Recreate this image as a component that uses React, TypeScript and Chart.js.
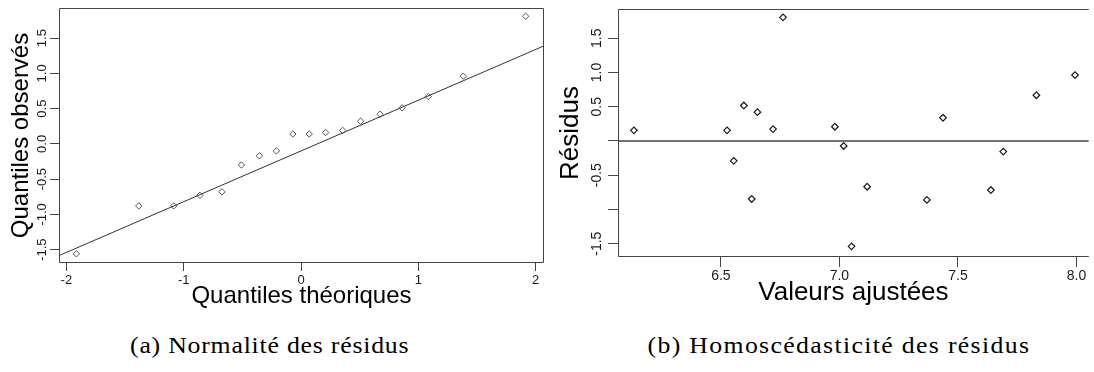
import React, { useEffect, useRef } from 'react';
import { Chart, registerables } from 'chart.js';

Chart.register(...registerables);

// ---------- Data: normal QQ plot ----------
const qqTheoretical = [-1.915, -1.383, -1.085, -0.862, -0.674, -0.508, -0.355, -0.21, -0.07, 0.07, 0.21, 0.355, 0.508, 0.674, 0.862, 1.085, 1.383, 1.915];
const qqObserved = [-1.56, -0.88, -0.88, -0.73, -0.68, -0.3, -0.17, -0.1, 0.14, 0.14, 0.16, 0.19, 0.32, 0.42, 0.51, 0.67, 0.96, 1.81];
const qqLineX = [-2.063, 2.071];
const qqLineY = [-1.585, 1.39];
const qqXTicks = [-2, -1, 0, 1, 2];
const qqXTickLabels = ['-2', '-1', '0', '1', '2'];
const qqYTicks = [-1.5, -1.0, -0.5, 0, 0.5, 1.0, 1.5];
const qqYTickLabels = ['-1.5', '-1.0', '-0.5', '0.0', '0.5', '1.0', '1.5'];
const qqXRange = [-2.063, 2.071];
const qqYRange = [-1.69, 1.927];

// ---------- Data: residuals vs fitted ----------
const fittedValues = [6.133, 6.526, 6.554, 6.597, 6.63, 6.654, 6.72, 6.762, 6.981, 7.018, 7.051, 7.117, 7.369, 7.437, 7.639, 7.691, 7.831, 7.994];
const residualValues = [0.155, 0.155, -0.29, 0.518, -0.847, 0.421, 0.174, 1.805, 0.208, -0.073, -1.538, -0.668, -0.861, 0.339, -0.716, -0.155, 0.668, 0.963];
const zeroLineX = [6.066, 8.052];
const zeroLineY = [0, 0];
const resXTicks = [6.5, 7.0, 7.5, 8.0];
const resXTickLabels = ['6.5', '7.0', '7.5', '8.0'];
const resYTicks = [-1.5, -1.0, -0.5, 0, 0.5, 1.0, 1.5];
const resYTickLabels = ['-1.5', '', '-0.5', '', '0.5', '1.0', '1.5'];
const resXRange = [6.066, 8.052];
const resYRange = [-1.694, 1.927];

const SANS = '"Liberation Sans", Arial, sans-serif';

const boxPlugin = {
  id: 'rbox',
  afterDatasetsDraw(chart: any, _args: any, opts: any) {
    const { left, top, right, bottom } = chart.chartArea;
    const ctx = chart.ctx;
    ctx.save();
    ctx.strokeStyle = opts.color || '#444';
    ctx.lineWidth = 1;
    const l = Math.round(left) + 0.5;
    const t = Math.round(top) + 0.5;
    const r = Math.round(right) - 0.5;
    const b = Math.round(bottom) - 0.5;
    ctx.beginPath();
    if (opts.noRight) {
      ctx.moveTo(right, t);
      ctx.lineTo(l, t);
      ctx.lineTo(l, b);
      ctx.lineTo(right, b);
    } else {
      ctx.rect(l, t, r - l, b - t);
    }
    ctx.stroke();
    ctx.restore();
  },
};

const yLabelPlugin = {
  id: 'ylabels',
  afterDraw(chart: any, _args: any, opts: any) {
    const scale = chart.scales.y;
    const ctx = chart.ctx;
    const x = chart.chartArea.left - opts.offset;
    ctx.save();
    ctx.fillStyle = '#1a1a1a';
    ctx.font = `${opts.size}px ${SANS}`;
    ctx.textAlign = 'center';
    ctx.textBaseline = 'middle';
    opts.values.forEach((v: number, i: number) => {
      const label = opts.labels[i];
      if (!label) return;
      const y = scale.getPixelForValue(v);
      ctx.save();
      ctx.translate(x, y);
      ctx.rotate(-Math.PI / 2);
      ctx.fillText(label, 0, 0);
      ctx.restore();
    });
    ctx.restore();
  },
};

type PanelSpec = {
  pageLeft: number;
  width: number;
  height: number;
  chartLeft: number;
  chartTop: number;
  chartRight: number;
  chartBottom: number;
  xs: number[];
  ys: number[];
  lineX: number[];
  lineY: number[];
  lineColor: string;
  lineWidth: number;
  pointColor: string;
  pointRadius: number;
  pointBorder: number;
  xRange: number[];
  yRange: number[];
  xTicks: number[];
  xTickLabels: string[];
  yTicks: number[];
  yTickLabels: string[];
  xTitle: string;
  yTitle: string;
  titleSize: number;
  tickSize: number;
  xTitlePad: number;
  yTitlePad: number;
  xTickLen: number;
  yTickLen: number;
  xTickPad: number;
  yLabelOffset: number;
  noRight: boolean;
};

function Panel({ spec }: { spec: PanelSpec }) {
  const ref = useRef<HTMLCanvasElement | null>(null);
  useEffect(() => {
    if (!ref.current) return;
    const s = spec;
    const chart = new Chart(ref.current, {
      type: 'scatter',
      data: {
        datasets: [
          {
            data: s.lineX.map((x, i) => ({ x, y: s.lineY[i] })),
            showLine: true,
            borderColor: s.lineColor,
            borderWidth: s.lineWidth,
            pointRadius: 0,
            order: 2,
          } as any,
          {
            data: s.xs.map((x, i) => ({ x, y: s.ys[i] })),
            pointStyle: 'rectRot',
            pointRadius: s.pointRadius,
            pointBorderWidth: s.pointBorder,
            pointBorderColor: s.pointColor,
            pointBackgroundColor: 'rgba(0,0,0,0)',
            showLine: false,
            order: 1,
          } as any,
        ],
      },
      options: {
        responsive: false,
        animation: false,
        events: [],
        layout: {
          padding: { left: 0, top: s.chartTop, right: s.width - s.chartRight, bottom: 0 },
        },
        plugins: {
          legend: { display: false },
          tooltip: { enabled: false },
          rbox: { color: '#444', noRight: s.noRight },
          ylabels: { values: s.yTicks, labels: s.yTickLabels, offset: s.yLabelOffset, size: s.tickSize },
        } as any,
        scales: {
          x: {
            type: 'linear',
            min: s.xRange[0],
            max: s.xRange[1],
            afterBuildTicks: (scale: any) => {
              scale.ticks = s.xTicks.map((v) => ({ value: v }));
            },
            afterFit: (scale: any) => {
              scale.height = s.height - s.chartBottom;
              scale.paddingLeft = 0;
              scale.paddingRight = 0;
            },
            ticks: {
              autoSkip: false,
              maxRotation: 0,
              minRotation: 0,
              includeBounds: false,
              padding: s.xTickPad,
              color: '#1a1a1a',
              font: { family: SANS, size: s.tickSize },
              callback: (v: any) => {
                const i = s.xTicks.findIndex((t) => Math.abs(t - Number(v)) < 1e-9);
                return i >= 0 ? s.xTickLabels[i] : '';
              },
            },
            grid: {
              drawOnChartArea: false,
              drawTicks: true,
              tickLength: s.xTickLen,
              color: '#444',
              lineWidth: 1,
            },
            border: { display: false },
            title: {
              display: true,
              text: s.xTitle,
              color: '#000',
              font: { family: SANS, size: s.titleSize },
              padding: { top: 0, bottom: s.xTitlePad },
            },
          },
          y: {
            type: 'linear',
            min: s.yRange[0],
            max: s.yRange[1],
            afterBuildTicks: (scale: any) => {
              scale.ticks = s.yTicks.map((v) => ({ value: v }));
            },
            afterFit: (scale: any) => {
              scale.width = s.chartLeft;
              scale.paddingTop = 0;
              scale.paddingBottom = 0;
            },
            ticks: { display: false, includeBounds: false },
            grid: {
              drawOnChartArea: false,
              drawTicks: true,
              tickLength: s.yTickLen,
              color: '#444',
              lineWidth: 1,
            },
            border: { display: false },
            title: {
              display: true,
              text: s.yTitle,
              color: '#000',
              font: { family: SANS, size: s.titleSize },
              padding: { top: s.yTitlePad, bottom: 0 },
            },
          },
        },
      } as any,
      plugins: [boxPlugin, yLabelPlugin] as any,
    });
    return () => chart.destroy();
  }, [spec]);
  return (
    <canvas
      ref={ref}
      width={spec.width}
      height={spec.height}
      style={{ position: 'absolute', left: spec.pageLeft, top: 0, width: spec.width, height: spec.height }}
    />
  );
}

const qqSpec: PanelSpec = {
  pageLeft: 0,
  width: 552,
  height: 320,
  chartLeft: 59,
  chartTop: 8,
  chartRight: 544,
  chartBottom: 263,
  xs: qqTheoretical,
  ys: qqObserved,
  lineX: qqLineX,
  lineY: qqLineY,
  lineColor: '#333',
  lineWidth: 1,
  pointColor: '#555',
  pointRadius: 3.2,
  pointBorder: 1,
  xRange: qqXRange,
  yRange: qqYRange,
  xTicks: qqXTicks,
  xTickLabels: qqXTickLabels,
  yTicks: qqYTicks,
  yTickLabels: qqYTickLabels,
  xTitle: 'Quantiles théoriques',
  yTitle: 'Quantiles observés',
  titleSize: 24,
  tickSize: 13,
  xTitlePad: 9,
  yTitlePad: 6.6,
  xTickLen: 8,
  yTickLen: 9,
  xTickPad: 2,
  yLabelOffset: 17,
  noRight: false,
};

const resSpec: PanelSpec = {
  pageLeft: 548,
  width: 546,
  height: 320,
  chartLeft: 70,
  chartTop: 9,
  chartRight: 546,
  chartBottom: 257,
  xs: fittedValues,
  ys: residualValues,
  lineX: zeroLineX,
  lineY: zeroLineY,
  lineColor: '#444',
  lineWidth: 1.5,
  pointColor: '#1a1a1a',
  pointRadius: 3.3,
  pointBorder: 1.2,
  xRange: resXRange,
  yRange: resYRange,
  xTicks: resXTicks,
  xTickLabels: resXTickLabels,
  yTicks: resYTicks,
  yTickLabels: resYTickLabels,
  xTitle: 'Valeurs ajustées',
  yTitle: 'Résidus',
  titleSize: 26,
  tickSize: 14,
  xTitlePad: 11.7,
  yTitlePad: 6.9,
  xTickLen: 10,
  yTickLen: 10,
  xTickPad: 1,
  yLabelOffset: 21,
  noRight: true,
};

function Caption({ center, text, spacing }: { center: number; text: string; spacing: number }) {
  return (
    <div
      style={{
        position: 'absolute',
        left: center - 300,
        width: 600,
        top: 333,
        height: 26,
        lineHeight: '26px',
        textAlign: 'center',
        fontFamily: '"Liberation Serif", "Times New Roman", serif',
        fontSize: 23,
        letterSpacing: `${spacing}px`,
        color: '#000',
        whiteSpace: 'nowrap',
      }}
    >
      <span style={{ display: 'inline-block', transform: 'scaleX(1.12)' }}>{text}</span>
    </div>
  );
}

export default function App() {
  return (
    <div
      style={{
        position: 'fixed',
        left: 0,
        top: 0,
        width: 1094,
        height: 372,
        background: '#fff',
        overflow: 'hidden',
      }}
    >
      <Panel spec={qqSpec} />
      <Panel spec={resSpec} />
      <Caption center={270} text="(a) Normalité des résidus" spacing={0.7} />
      <Caption center={839} text="(b) Homoscédasticité des résidus" spacing={1.2} />
    </div>
  );
}
